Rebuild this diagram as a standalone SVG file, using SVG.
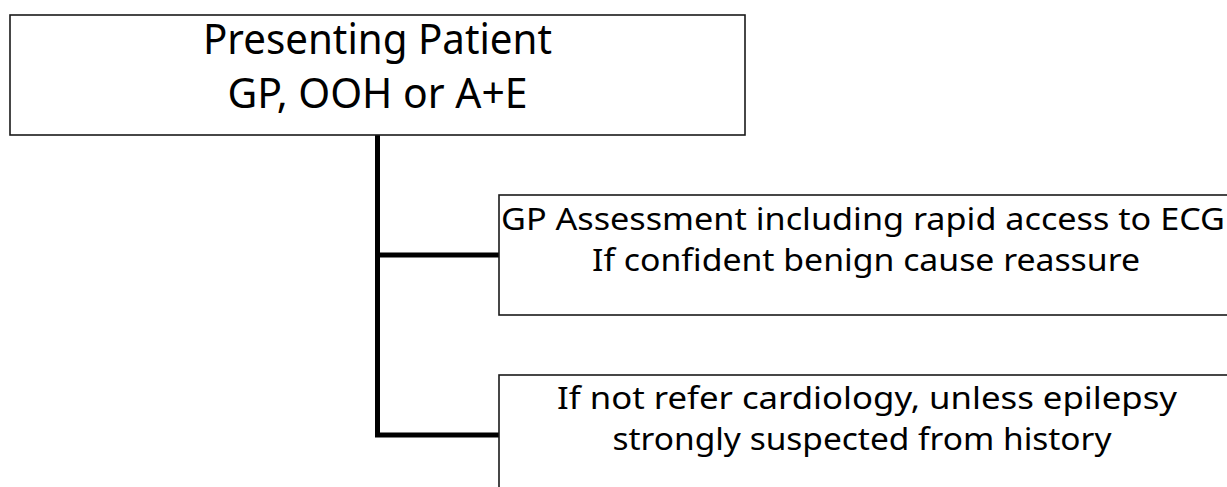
<svg xmlns="http://www.w3.org/2000/svg" width="1227" height="487" viewBox="0 0 1227 487">
  <style>
    .box { fill: #ffffff; stroke: #1a1a1a; stroke-width: 1.6; }
    .t { font-family: "Noto Sans", "Open Sans", "DejaVu Sans", sans-serif; fill: #000000; text-anchor: middle; }
    .big { font-size: 42px; }
    .med { font-size: 31px; }
    .conn { fill: none; stroke: #000000; stroke-width: 5; stroke-linecap: butt; stroke-linejoin: miter; }
  </style>
  <rect x="0" y="0" width="1227" height="487" fill="#ffffff"/>
  <g id="connectors">
    <polyline class="conn" points="377.5,135 377.5,435 499,435"/>
    <line class="conn" x1="377.5" y1="255" x2="499" y2="255"/>
  </g>
  <g id="node-presenting">
    <rect class="box" x="10" y="15" width="735" height="120"/>
    <text class="t big" x="377.5" y="54" textLength="349" lengthAdjust="spacingAndGlyphs">Presenting Patient</text>
    <text class="t big" x="377.5" y="108" textLength="300" lengthAdjust="spacingAndGlyphs">GP, OOH or A+E</text>
  </g>
  <g id="node-assessment">
    <rect class="box" x="499" y="195" width="740" height="120"/>
    <text class="t med" x="863" y="230" textLength="724" lengthAdjust="spacingAndGlyphs">GP Assessment including rapid access to ECG</text>
    <text class="t med" x="866" y="271" textLength="548" lengthAdjust="spacingAndGlyphs">If confident benign cause reassure</text>
  </g>
  <g id="node-refer">
    <rect class="box" x="499" y="375" width="740" height="130"/>
    <text class="t med" x="867" y="409" textLength="620" lengthAdjust="spacingAndGlyphs">If not refer cardiology, unless epilepsy</text>
    <text class="t med" x="862" y="450" textLength="499" lengthAdjust="spacingAndGlyphs">strongly suspected from history</text>
  </g>
</svg>
